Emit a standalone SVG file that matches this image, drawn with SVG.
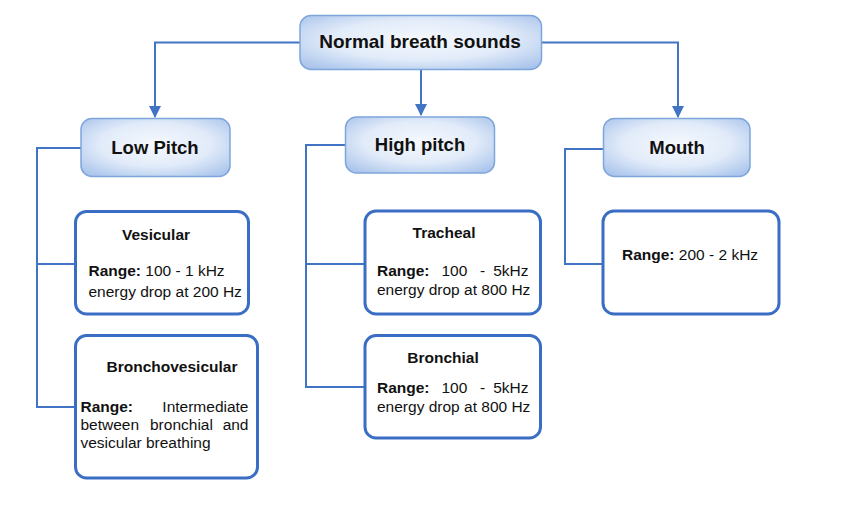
<svg xmlns="http://www.w3.org/2000/svg" width="850" height="511" viewBox="0 0 850 511">
<style>
.hdr{fill:url(#g);stroke:#7ea6dc;stroke-width:1.5}
.info{fill:#fff;stroke:#3a6dc4;stroke-width:3}
.conn{fill:none;stroke:#4274c6;stroke-width:2}
.t{font-family:"Liberation Sans",Arial,sans-serif;fill:#111}
.h{font-size:18.5px;font-weight:bold;text-anchor:middle}
.b{font-size:15.5px;font-weight:bold}
.r{font-size:15.5px}
.c{text-anchor:middle}
.e{text-anchor:end}
</style>
<defs>
<radialGradient id="g" cx="50%" cy="45%" r="75%">
<stop offset="0" stop-color="#f6f9fe"/>
<stop offset="0.5" stop-color="#e1ebf9"/>
<stop offset="1" stop-color="#9dbbe8"/>
</radialGradient>
<marker id="a" markerWidth="12" markerHeight="12" refX="11" refY="6" orient="auto" markerUnits="userSpaceOnUse">
<path d="M0,0 L12,6 L0,12 Z" fill="#4274c6"/>
</marker>
</defs>
<g id="connectors">
<path class="conn" d="M300,42.5 H155 V117" marker-end="url(#a)"/>
<path class="conn" d="M542,42.5 H678 V117" marker-end="url(#a)"/>
<path class="conn" d="M421,70 V115" marker-end="url(#a)"/>
<path class="conn" d="M81,148 H37 V407 H75 M37,264 H75"/>
<path class="conn" d="M345,145 H306 V387 H364 M306,264 H364"/>
<path class="conn" d="M603,149 H565 V264 H602"/>
</g>
<g id="n_root">
<rect class="hdr" x="300" y="15.5" width="241.5" height="54" rx="11"/>
<text class="t h" x="420" y="48" style="font-size:19px">Normal breath sounds</text>
</g>
<g id="n_low">
<rect class="hdr" x="81" y="118.5" width="149" height="58" rx="11"/>
<text class="t h" x="155" y="153.5">Low Pitch</text>
</g>
<g id="n_high">
<rect class="hdr" x="345.5" y="117" width="149" height="56" rx="11"/>
<text class="t h" x="420" y="151">High pitch</text>
</g>
<g id="n_mouth">
<rect class="hdr" x="603.5" y="118.5" width="146.5" height="58" rx="11"/>
<text class="t h" x="677" y="153.5">Mouth</text>
</g>
<g id="n_vesicular">
<rect class="info" x="75.5" y="211.5" width="173" height="102.5" rx="11"/>
<text class="t b c" x="156" y="239.5">Vesicular</text>
<text class="t r" x="88.5" y="276"><tspan font-weight="bold">Range:</tspan> 100 - 1 kHz</text>
<text class="t r" x="88.5" y="297">energy drop at 200 Hz</text>
</g>
<g id="n_broncho">
<rect class="info" x="75.5" y="335.5" width="182" height="142.5" rx="11"/>
<text class="t b c" x="172" y="372">Bronchovesicular</text>
<text class="t b" x="80.5" y="411.5">Range:</text>
<text class="t r e" x="248.5" y="411.5">Intermediate</text>
<text class="t r" x="80.5" y="430">between</text>
<text class="t r" x="150" y="430">bronchial</text>
<text class="t r e" x="248.5" y="430">and</text>
<text class="t r" x="80.5" y="448">vesicular breathing</text>
</g>
<g id="n_tracheal">
<rect class="info" x="365" y="211" width="175.5" height="103" rx="11"/>
<text class="t b c" x="444" y="238">Tracheal</text>
<text class="t b" x="377" y="276">Range:</text>
<text class="t r" x="441.5" y="276">100</text>
<text class="t r" x="480" y="276">-</text>
<text class="t r e" x="528.5" y="276">5kHz</text>
<text class="t r" x="377" y="295">energy drop at 800 Hz</text>
</g>
<g id="n_bronchial">
<rect class="info" x="365" y="335.5" width="175.5" height="102.5" rx="11"/>
<text class="t b c" x="443" y="362.5">Bronchial</text>
<text class="t b" x="377" y="393">Range:</text>
<text class="t r" x="441.5" y="393">100</text>
<text class="t r" x="480" y="393">-</text>
<text class="t r e" x="528.5" y="393">5kHz</text>
<text class="t r" x="377" y="412">energy drop at 800 Hz</text>
</g>
<g id="n_mouthrange">
<rect class="info" x="603" y="211" width="176" height="103" rx="11"/>
<text class="t r" x="622" y="260"><tspan font-weight="bold">Range:</tspan> 200 - 2 kHz</text>
</g>
</svg>
